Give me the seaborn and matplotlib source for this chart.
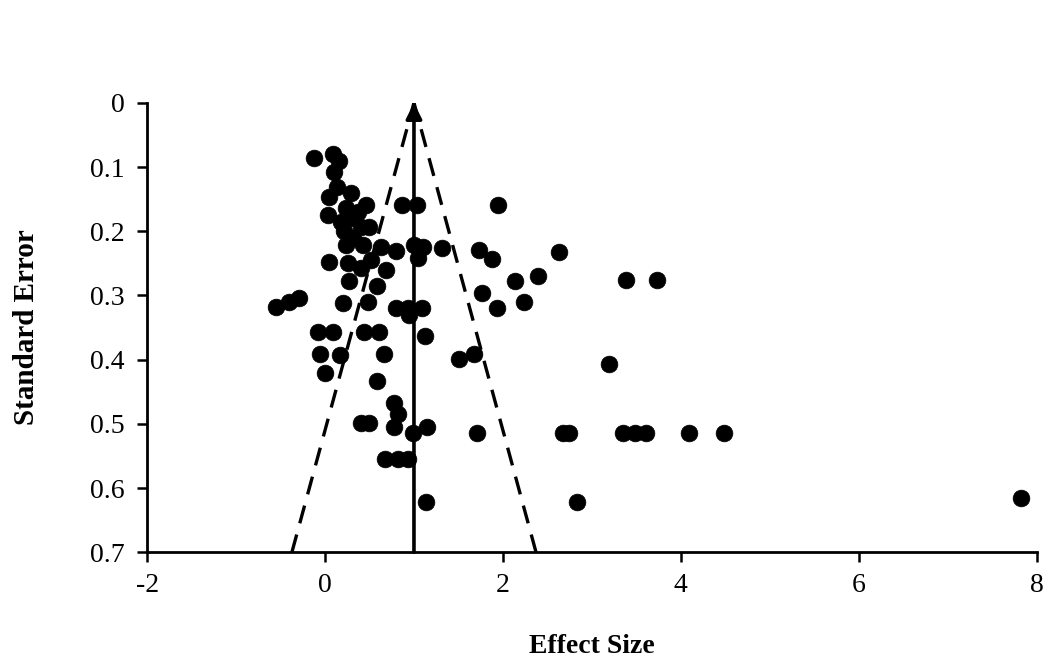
import matplotlib
matplotlib.use("Agg")
import matplotlib.pyplot as plt
import seaborn as sns
import pandas as pd
import numpy as np

# ---- data ----
effect_size = [
    -0.12, 0.09, 0.16, 0.10, 0.13, 0.05, 0.29, 0.46, 0.03, 0.24,
    0.29, 0.40, 0.49, 0.21, 0.24, 0.43, 0.63, 0.80, 0.87, 1.03,
    1.95, 1.00, 1.10, 1.05, 1.31, 1.73, 1.88, 2.63, 0.05, 0.26,
    0.40, 0.52, 0.69, 0.27, 0.58, 2.13, 2.39, 3.38, 3.73, -0.55,
    -0.41, -0.29, 0.20, 0.48, 0.80, 0.93, 1.09, 0.94, 1.77, 1.93,
    2.24, -0.08, 0.09, 0.44, 0.61, 1.12, -0.06, 0.17, 0.66, 1.51,
    1.67, 3.19, 0.00, 0.59, 0.78, 0.82, 0.40, 0.50, 0.77, 0.99,
    1.15, 1.71, 2.68, 2.74, 3.35, 3.48, 3.61, 4.09, 4.49, 0.68,
    0.82, 0.93, 1.13, 2.83, 7.82, 0.18, 0.31, 0.37,
]
std_error = [
    0.086, 0.080, 0.090, 0.108, 0.131, 0.147, 0.140, 0.159, 0.175, 0.164,
    0.179, 0.193, 0.193, 0.200, 0.222, 0.222, 0.225, 0.231, 0.159, 0.159,
    0.159, 0.222, 0.225, 0.242, 0.226, 0.229, 0.243, 0.232, 0.248, 0.250,
    0.257, 0.245, 0.261, 0.278, 0.285, 0.278, 0.270, 0.276, 0.276, 0.318,
    0.310, 0.304, 0.312, 0.310, 0.320, 0.320, 0.320, 0.331, 0.296, 0.320,
    0.310, 0.357, 0.357, 0.357, 0.357, 0.363, 0.392, 0.393, 0.392, 0.399,
    0.392, 0.407, 0.421, 0.434, 0.468, 0.484, 0.498, 0.498, 0.505, 0.515,
    0.505, 0.515, 0.515, 0.515, 0.515, 0.515, 0.515, 0.515, 0.515, 0.554,
    0.554, 0.554, 0.621, 0.621, 0.616, 0.186, 0.211, 0.170,
]
x_ticks = [-2, 0, 2, 4, 6, 8]
y_ticks = [0, 0.1, 0.2, 0.3, 0.4, 0.5, 0.6, 0.7]
y_tick_labels = ["0", "0.1", "0.2", "0.3", "0.4", "0.5", "0.6", "0.7"]
pooled_effect = 1.0
se_max = 0.7

df = pd.DataFrame({"Effect Size": effect_size, "Standard Error": std_error})

sns.set_theme(style="white")
plt.rcParams["font.family"] = ["Liberation Serif", "DejaVu Serif"]

fig = plt.figure(figsize=(10.43, 6.59), dpi=100)
ax = fig.add_axes([0.141, 0.162, 0.853, 0.682])

sns.scatterplot(data=df, x="Effect Size", y="Standard Error", ax=ax,
                color="black", edgecolor="black", s=145, linewidth=0.5,
                zorder=3, legend=False)

# funnel (95% pseudo confidence limits)
half = 1.96 * se_max
ax.plot([pooled_effect - half, pooled_effect], [se_max, 0], color="black",
        lw=2.4, dashes=(5.5, 3.5), zorder=2)
ax.plot([pooled_effect + half, pooled_effect], [se_max, 0], color="black",
        lw=2.4, dashes=(5.5, 3.5), zorder=2)

# vertical line with arrow at pooled effect
ax.annotate("", xy=(pooled_effect, 0.0), xytext=(pooled_effect, se_max),
            arrowprops=dict(arrowstyle="-|>", color="black", lw=2.6,
                            mutation_scale=24, shrinkA=0, shrinkB=0),
            zorder=4)

ax.set_xlim(-2, 8)
ax.set_ylim(0.7, 0)
ax.set_xticks(x_ticks)
ax.set_xticklabels([str(t) for t in x_ticks])
ax.set_yticks(y_ticks)
ax.set_yticklabels(y_tick_labels)

for side in ["top", "right"]:
    ax.spines[side].set_visible(False)
for side in ["left", "bottom"]:
    ax.spines[side].set_linewidth(2.0)
    ax.spines[side].set_color("black")

ax.tick_params(axis="both", which="major", direction="out", length=7,
               width=1.8, color="black", labelsize=20, labelcolor="black",
               bottom=True, left=True)
ax.tick_params(axis="x", pad=8)
ax.tick_params(axis="y", pad=9)

ax.set_xlabel("Effect Size", fontsize=20, fontweight="bold", labelpad=26,
              color="black")
ax.set_ylabel("Standard Error", fontsize=21, fontweight="bold", labelpad=36,
              color="black")

ax.set_facecolor("white")
fig.patch.set_facecolor("white")
ax.grid(False)

fig.savefig("out.png", dpi=100)
